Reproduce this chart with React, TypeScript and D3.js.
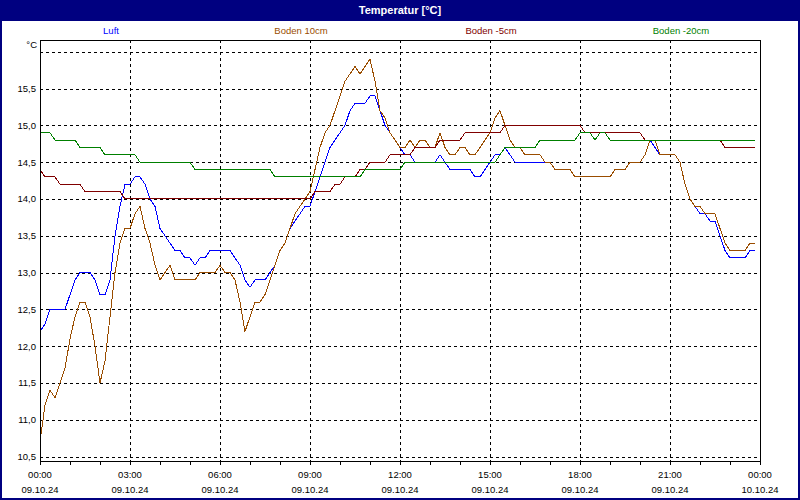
import React from "react";
import * as d3 from "d3";

// minutes since 09.10.24 00:00, one sample every 10 minutes
const luft = [
  12.2, 12.3, 12.5, 12.5, 12.5, 12.5, 12.7, 12.9, 13.0, 13.0,
  13.0, 12.9, 12.7, 12.7, 12.9, 13.5, 13.9, 14.2, 14.2, 14.3,
  14.3, 14.2, 14.0, 13.9, 13.6, 13.5, 13.4, 13.3, 13.3, 13.2,
  13.2, 13.1, 13.2, 13.2, 13.3, 13.3, 13.3, 13.3, 13.3, 13.2,
  13.1, 12.9, 12.8, 12.9, 12.9, 12.9, 13.0, 13.1, 13.3, 13.4,
  13.6, 13.7, 13.8, 13.9, 13.9, 14.1, 14.3, 14.5, 14.7, 14.8,
  14.9, 15.0, 15.2, 15.3, 15.3, 15.3, 15.4, 15.4, 15.2, 15.0,
  14.9, 14.8, 14.7, 14.6, 14.6, 14.5, 14.5, 14.5, 14.5, 14.5,
  14.6, 14.5, 14.4, 14.4, 14.4, 14.4, 14.4, 14.3, 14.3, 14.4,
  14.5, 14.6, 14.6, 14.7, 14.6, 14.5, 14.5, 14.5, 14.5, 14.5,
  14.5, 14.5, 14.5, 14.4, 14.4, 14.4, 14.4, 14.3, 14.3, 14.3,
  14.3, 14.3, 14.3, 14.3, 14.3, 14.4, 14.4, 14.4, 14.5, 14.5,
  14.5, 14.6, 14.8, 14.7, 14.6, 14.6, 14.6, 14.6, 14.5, 14.2,
  14.0, 13.9, 13.8, 13.8, 13.7, 13.7, 13.5, 13.3, 13.2, 13.2,
  13.2, 13.2, 13.3, 13.3,
];

const boden10 = [
  10.7, 11.2, 11.4, 11.3, 11.5, 11.7, 12.1, 12.4, 12.6, 12.6,
  12.4, 12.0, 11.5, 11.8, 12.4, 13.0, 13.4, 13.6, 13.6, 13.8,
  13.9, 13.6, 13.4, 13.1, 12.9, 13.0, 13.1, 12.9, 12.9, 12.9,
  12.9, 12.9, 13.0, 13.0, 13.0, 13.0, 13.1, 13.0, 13.0, 12.9,
  12.6, 12.2, 12.4, 12.6, 12.6, 12.7, 12.9, 13.1, 13.3, 13.4,
  13.6, 13.8, 13.9, 14.0, 14.1, 14.4, 14.7, 14.9, 15.0, 15.2,
  15.4, 15.6, 15.7, 15.8, 15.7, 15.8, 15.9, 15.6, 15.2, 15.1,
  14.9, 14.8, 14.7, 14.7, 14.8, 14.7, 14.8, 14.8, 14.7, 14.7,
  14.9, 14.7, 14.6, 14.6, 14.7, 14.7, 14.6, 14.6, 14.7, 14.8,
  14.9, 15.1, 15.2, 15.0, 14.8, 14.7, 14.7, 14.6, 14.6, 14.6,
  14.6, 14.5, 14.5, 14.4, 14.4, 14.4, 14.4, 14.3, 14.3, 14.3,
  14.3, 14.3, 14.3, 14.3, 14.3, 14.4, 14.4, 14.4, 14.5, 14.5,
  14.5, 14.6, 14.8, 14.8, 14.6, 14.6, 14.6, 14.6, 14.5, 14.2,
  14.0, 13.9, 13.9, 13.8, 13.8, 13.8, 13.6, 13.4, 13.3, 13.3,
  13.3, 13.3, 13.4, 13.4,
];

const bodenM5 = [
  14.4, 14.3, 14.3, 14.3, 14.2, 14.2, 14.2, 14.2, 14.2, 14.1,
  14.1, 14.1, 14.1, 14.1, 14.1, 14.1, 14.1, 14.0, 14.0, 14.0,
  14.0, 14.0, 14.0, 14.0, 14.0, 14.0, 14.0, 14.0, 14.0, 14.0,
  14.0, 14.0, 14.0, 14.0, 14.0, 14.0, 14.0, 14.0, 14.0, 14.0,
  14.0, 14.0, 14.0, 14.0, 14.0, 14.0, 14.0, 14.0, 14.0, 14.0,
  14.0, 14.0, 14.0, 14.0, 14.0, 14.1, 14.1, 14.1, 14.1, 14.2,
  14.2, 14.3, 14.3, 14.3, 14.4, 14.4, 14.5, 14.5, 14.5, 14.5,
  14.6, 14.6, 14.6, 14.6, 14.6, 14.7, 14.7, 14.7, 14.7, 14.7,
  14.8, 14.8, 14.8, 14.8, 14.8, 14.9, 14.9, 14.9, 14.9, 14.9,
  14.9, 14.9, 14.9, 15.0, 15.0, 15.0, 15.0, 15.0, 15.0, 15.0,
  15.0, 15.0, 15.0, 15.0, 15.0, 15.0, 15.0, 15.0, 15.0, 14.9,
  14.9, 14.9, 14.9, 14.9, 14.9, 14.9, 14.9, 14.9, 14.9, 14.9,
  14.9, 14.8, 14.8, 14.8, 14.8, 14.8, 14.8, 14.8, 14.8, 14.8,
  14.8, 14.8, 14.8, 14.8, 14.8, 14.8, 14.8, 14.7, 14.7, 14.7,
  14.7, 14.7, 14.7, 14.7,
];

const bodenM20 = [
  14.9, 14.9, 14.9, 14.8, 14.8, 14.8, 14.8, 14.8, 14.7, 14.7,
  14.7, 14.7, 14.7, 14.6, 14.6, 14.6, 14.6, 14.6, 14.6, 14.6,
  14.5, 14.5, 14.5, 14.5, 14.5, 14.5, 14.5, 14.5, 14.5, 14.5,
  14.5, 14.4, 14.4, 14.4, 14.4, 14.4, 14.4, 14.4, 14.4, 14.4,
  14.4, 14.4, 14.4, 14.4, 14.4, 14.4, 14.4, 14.3, 14.3, 14.3,
  14.3, 14.3, 14.3, 14.3, 14.3, 14.3, 14.3, 14.3, 14.3, 14.3,
  14.3, 14.3, 14.3, 14.3, 14.3, 14.4, 14.4, 14.4, 14.4, 14.4,
  14.4, 14.4, 14.4, 14.5, 14.5, 14.5, 14.5, 14.5, 14.5, 14.5,
  14.5, 14.5, 14.5, 14.5, 14.5, 14.5, 14.5, 14.5, 14.5, 14.5,
  14.5, 14.5, 14.6, 14.7, 14.7, 14.7, 14.7, 14.7, 14.7, 14.7,
  14.8, 14.8, 14.8, 14.8, 14.8, 14.8, 14.8, 14.8, 14.9, 14.9,
  14.9, 14.8, 14.9, 14.9, 14.8, 14.8, 14.8, 14.8, 14.8, 14.8,
  14.8, 14.8, 14.8, 14.8, 14.8, 14.8, 14.8, 14.8, 14.8, 14.8,
  14.8, 14.8, 14.8, 14.8, 14.8, 14.8, 14.8, 14.8, 14.8, 14.8,
  14.8, 14.8, 14.8, 14.8,
];

const seriesNames = ["Luft", "Boden 10cm", "Boden -5cm", "Boden -20cm"];
const seriesColors = ["#0000ff", "#9a4d00", "#800000", "#008000"];

const xTickHours = [0, 3, 6, 9, 12, 15, 18, 21, 24];
const xTimeLabels = ["00:00", "03:00", "06:00", "09:00", "12:00", "15:00", "18:00", "21:00", "00:00"];
const xDateLabels = ["09.10.24", "09.10.24", "09.10.24", "09.10.24", "09.10.24", "09.10.24", "09.10.24", "09.10.24", "10.10.24"];
const hourTicks = [
  0, 1, 2, 3, 4, 5, 6, 7, 8, 9, 10, 11, 12, 13, 14, 15, 16, 17, 18, 19, 20, 21, 22, 23, 24,
];
const yGrid = [10.5, 11, 11.5, 12, 12.5, 13, 13.5, 14, 14.5, 15, 15.5, 16];
const yLabelValues = [10.5, 11, 11.5, 12, 12.5, 13, 13.5, 14, 14.5, 15, 15.5];
const yLabels = ["10,5", "11,0", "11,5", "12,0", "12,5", "13,0", "13,5", "14,0", "14,5", "15,0", "15,5"];

const W = 800;
const H = 500;
const L = 40;
const R = 760;
const T = 40;
const B = 461;
const FONT = "'Liberation Sans', Arial, sans-serif";

export default function App() {
  const x = d3.scaleLinear().domain([0, 24 * 60]).range([L, R]);
  const y = d3.scaleLinear().domain([10.44, 16.16]).range([B, T]);
  const all = [luft, boden10, bodenM5, bodenM20];
  const line = d3
    .line<number>()
    .x((_, i) => x(i * 10))
    .y((d) => y(d));

  return (
    <svg
      width={W}
      height={H}
      style={{ position: "fixed", left: 0, top: 0, display: "block", background: "#fff" }}
      fontFamily={FONT}
    >
      <rect x={0} y={0} width={W} height={H} fill="#ffffff" />
      <rect x={0} y={0} width={W} height={21} fill="#000080" />
      <rect x={1} y={1} width={W - 2} height={H - 2} fill="none" stroke="#000080" strokeWidth={2} />
      <text x={400} y={14} textAnchor="middle" fill="#ffffff" fontSize={11} fontWeight="bold">
        Temperatur [°C]
      </text>

      {seriesNames.map((n, i) => (
        <text key={n} x={111 + i * 190} y={34} textAnchor="middle" fill={seriesColors[i]} fontSize={9.5}>
          {n}
        </text>
      ))}

      {/* grid */}
      <g shapeRendering="crispEdges" stroke="#000" strokeWidth={1} strokeDasharray="3,3">
        {yGrid.map((v) => (
          <line key={"h" + v} x1={L} x2={R} y1={Math.round(y(v)) + 0.5} y2={Math.round(y(v)) + 0.5} />
        ))}
        {xTickHours.slice(1, -1).map((h) => (
          <line key={"v" + h} x1={Math.round(x(h * 60)) + 0.5} x2={Math.round(x(h * 60)) + 0.5} y1={T} y2={B} />
        ))}
      </g>

      {/* series */}
      <g fill="none" strokeWidth={1} shapeRendering="crispEdges">
        {all.map((s, i) => (
          <path key={i} d={line(s) || ""} stroke={seriesColors[i]} />
        ))}
      </g>

      {/* frame */}
      <g shapeRendering="crispEdges" stroke="#000" strokeWidth={1}>
        <line x1={L + 0.5} x2={L + 0.5} y1={T} y2={B + 1} />
        <line x1={L} x2={R + 1} y1={T + 0.5} y2={T + 0.5} />
        <line x1={R + 0.5} x2={R + 0.5} y1={T} y2={B + 3} />
        <line x1={L} x2={R + 1} y1={B + 0.5} y2={B + 0.5} />
        {hourTicks.map((h) => (
          <line key={"t" + h} x1={Math.round(x(h * 60)) + 0.5} x2={Math.round(x(h * 60)) + 0.5} y1={B} y2={B + 4} />
        ))}
      </g>

      {/* y labels */}
      <text x={37} y={48} textAnchor="end" fontSize={9.5} fill="#000">
        °C
      </text>
      {yLabelValues.map((v, i) => (
        <text key={"yl" + v} x={36} y={y(v) + 3.5} textAnchor="end" fontSize={9.5} fill="#000">
          {yLabels[i]}
        </text>
      ))}

      {/* x labels */}
      {xTickHours.map((h, i) => (
        <g key={"xl" + i}>
          <text x={x(h * 60)} y={477.5} textAnchor="middle" fontSize={9.5} fill="#000">
            {xTimeLabels[i]}
          </text>
          <text x={x(h * 60)} y={492.5} textAnchor="middle" fontSize={9.5} fill="#000">
            {xDateLabels[i]}
          </text>
        </g>
      ))}
    </svg>
  );
}
